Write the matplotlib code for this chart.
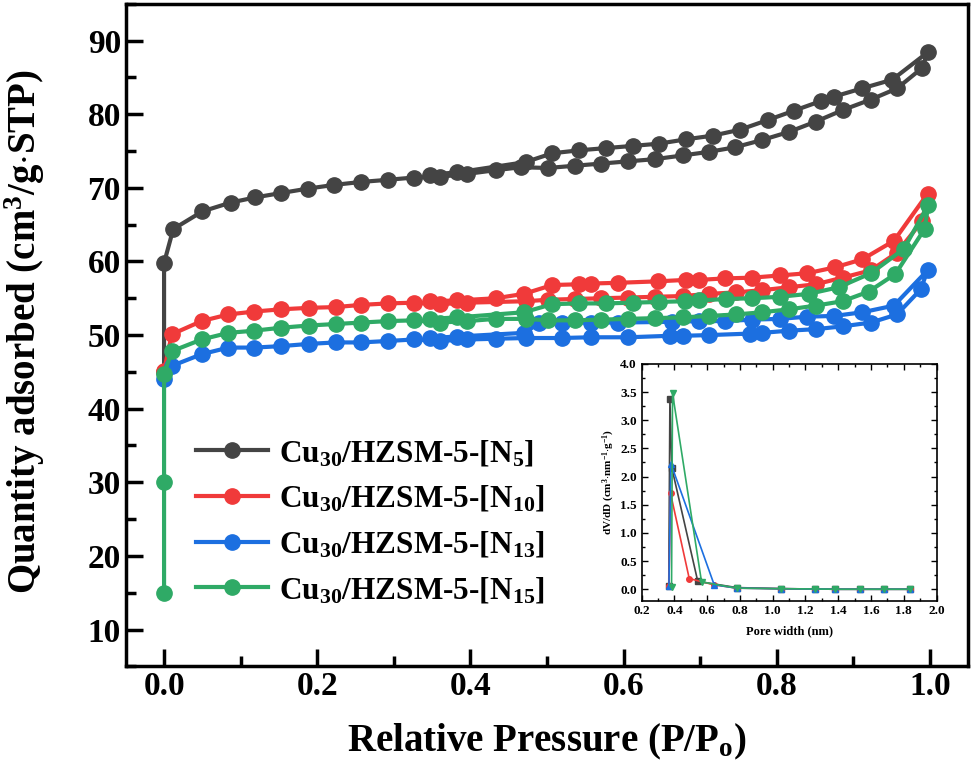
import matplotlib
matplotlib.use("Agg")
import matplotlib.pyplot as plt
from matplotlib.ticker import MultipleLocator

plt.rcParams['font.family'] = 'Liberation Serif'
plt.rcParams['font.weight'] = 'bold'
plt.rcParams['axes.labelweight'] = 'bold'
plt.rcParams['mathtext.fontset'] = 'custom'
plt.rcParams['mathtext.rm'] = 'Liberation Serif:bold'
plt.rcParams['mathtext.bf'] = 'Liberation Serif:bold'
plt.rcParams['mathtext.it'] = 'Liberation Serif:bold:italic'

# --- isotherms: adsorption branch followed by desorption branch ---
n5_x = [0.0, 0.0, 0.012, 0.050, 0.087, 0.119, 0.153, 0.188, 0.222, 0.257, 0.293, 0.326,
        0.360, 0.396, 0.433, 0.466, 0.501, 0.536, 0.571, 0.606, 0.641, 0.677, 0.712,
        0.745, 0.781, 0.816, 0.851, 0.887, 0.923, 0.957, 0.990, 0.997,
        0.951, 0.911, 0.875, 0.858, 0.823, 0.788, 0.752, 0.717, 0.682, 0.646, 0.612,
        0.577, 0.542, 0.507, 0.472, 0.383, 0.347]
n5_y = [45.0, 59.8, 64.4, 66.8, 68.0, 68.7, 69.3, 69.9, 70.4, 70.8, 71.1, 71.4,
        71.5, 71.9, 72.4, 72.8, 72.7, 73.0, 73.3, 73.6, 73.9, 74.4, 74.9,
        75.5, 76.5, 77.6, 79.0, 80.6, 82.0, 83.5, 86.3, 88.4,
        84.7, 83.5, 82.4, 81.8, 80.5, 79.2, 77.9, 77.1, 76.6, 76.0, 75.7,
        75.4, 75.1, 74.7, 73.5, 72.1, 71.8]

n10_x = [0.0, 0.010, 0.049, 0.084, 0.118, 0.153, 0.189, 0.224, 0.257, 0.293, 0.326,
         0.360, 0.396, 0.473, 0.501, 0.536, 0.571, 0.606, 0.641, 0.677, 0.712, 0.747,
         0.781, 0.816, 0.851, 0.886, 0.923, 0.957, 0.990, 0.997,
         0.953, 0.912, 0.876, 0.840, 0.804, 0.768, 0.733, 0.699, 0.682, 0.645, 0.593,
         0.557, 0.542, 0.507, 0.470, 0.433, 0.383, 0.347]
n10_y = [45.1, 50.1, 51.9, 52.8, 53.2, 53.5, 53.7, 53.8, 54.1, 54.3, 54.4,
         54.2, 54.4, 54.6, 54.8, 54.9, 55.0, 55.1, 55.2, 55.3, 55.6, 55.8,
         56.1, 56.5, 56.9, 57.8, 58.8, 61.2, 65.5, 69.2,
         62.8, 60.3, 59.2, 58.4, 58.1, 57.8, 57.7, 57.5, 57.5, 57.3, 57.1,
         57.0, 56.9, 56.8, 55.6, 55.0, 54.7, 54.6]

n13_x = [0.0, 0.010, 0.049, 0.084, 0.118, 0.153, 0.189, 0.224, 0.257, 0.293, 0.326,
         0.360, 0.396, 0.433, 0.473, 0.519, 0.557, 0.606, 0.660, 0.677, 0.712, 0.765,
         0.781, 0.816, 0.851, 0.887, 0.923, 0.957, 0.988, 0.997,
         0.953, 0.912, 0.875, 0.840, 0.804, 0.768, 0.733, 0.698, 0.663, 0.593, 0.557,
         0.520, 0.490, 0.470, 0.383, 0.347]
n13_y = [44.0, 45.8, 47.4, 48.3, 48.3, 48.5, 48.8, 49.0, 49.0, 49.2, 49.4,
         49.2, 49.4, 49.5, 49.6, 49.6, 49.7, 49.7, 49.9, 49.9, 50.0, 50.2,
         50.3, 50.6, 50.8, 51.2, 51.7, 52.8, 56.2, 58.8,
         54.0, 53.1, 52.6, 52.5, 52.2, 52.1, 51.9, 51.9, 51.8, 51.7, 51.7,
         51.7, 51.6, 50.3, 49.8, 49.6]

n15_x = [0.0, 0.0, 0.0, 0.010, 0.049, 0.084, 0.118, 0.153, 0.189, 0.224, 0.257, 0.293,
         0.326, 0.360, 0.396, 0.433, 0.473, 0.501, 0.536, 0.571, 0.606, 0.641, 0.677,
         0.712, 0.747, 0.781, 0.816, 0.851, 0.886, 0.920, 0.955, 0.993, 0.998,
         0.966, 0.923, 0.881, 0.842, 0.804, 0.768, 0.734, 0.699, 0.680, 0.646, 0.612,
         0.577, 0.542, 0.507, 0.470, 0.383, 0.347]
n15_y = [15.0, 30.0, 44.7, 47.8, 49.4, 50.3, 50.6, 51.0, 51.3, 51.5, 51.7, 51.9,
         52.0, 51.7, 51.9, 52.2, 52.2, 52.0, 52.0, 52.1, 52.2, 52.3, 52.4,
         52.6, 52.8, 53.1, 53.5, 54.0, 54.6, 55.9, 58.3, 64.4, 67.7,
         61.7, 58.4, 56.5, 55.6, 55.2, 55.0, 54.9, 54.7, 54.6, 54.5, 54.4,
         54.3, 54.3, 54.2, 53.1, 52.4, 52.2]

labels = [r'Cu$_{30}$/HZSM-5-[N$_{5}$]', r'Cu$_{30}$/HZSM-5-[N$_{10}$]',
          r'Cu$_{30}$/HZSM-5-[N$_{13}$]', r'Cu$_{30}$/HZSM-5-[N$_{15}$]']
colors = ['#444444', '#f03a3a', '#1c6fe0', '#2faa66']

# --- pore size distribution (inset) ---
psd_x5 = [0.366, 0.373, 0.385, 0.543, 0.78, 1.05, 1.26, 1.38, 1.53, 1.68, 1.84]
psd_y5 = [0.05, 3.37, 2.15, 0.14, 0.03, 0.01, 0.005, 0.0, 0.0, 0.0, 0.0]
psd_x10 = [0.367, 0.377, 0.491, 0.640, 0.78, 1.05, 1.26, 1.38, 1.53, 1.68, 1.84]
psd_y10 = [0.05, 1.70, 0.19, 0.08, 0.02, 0.01, 0.005, 0.0, 0.0, 0.0, 0.0]
psd_x13 = [0.367, 0.379, 0.643, 0.78, 1.05, 1.26, 1.38, 1.53, 1.68, 1.84]
psd_y13 = [0.06, 2.23, 0.08, 0.02, 0.01, 0.005, 0.0, 0.0, 0.0, 0.0]
psd_x15 = [0.383, 0.389, 0.566, 0.78, 1.05, 1.26, 1.38, 1.53, 1.68, 1.84]
psd_y15 = [0.04, 3.48, 0.13, 0.02, 0.01, 0.005, 0.0, 0.0, 0.0, 0.0]

fig = plt.figure(figsize=(9.75, 7.65), dpi=100)
ax = fig.add_axes([0.129, 0.129, 0.864, 0.866])

series = [(n5_x, n5_y), (n10_x, n10_y), (n13_x, n13_y), (n15_x, n15_y)]
for (xs, ys), lab, c in zip(series, labels, colors):
    ax.plot(xs, ys, '-o', color=c, lw=3, ms=11, label=lab)

ax.set_xlim(-0.05, 1.05)
ax.set_ylim(5, 95)
ax.xaxis.set_major_locator(MultipleLocator(0.2))
ax.xaxis.set_minor_locator(MultipleLocator(0.1))
ax.yaxis.set_major_locator(MultipleLocator(10))
ax.yaxis.set_minor_locator(MultipleLocator(5))
ax.set_yticks(range(10, 91, 10))
ax.tick_params(which='both', direction='in', width=2.5, labelsize=24)
ax.tick_params(which='major', length=12)
ax.tick_params(which='minor', length=7)
for sp in ax.spines.values():
    sp.set_linewidth(2.5)
ax.set_xlabel(r'Relative Pressure (P/P$_{\mathrm{o}}$)', fontsize=28, labelpad=14)
ax.set_ylabel(r'Quantity adsorbed (cm$^{3}$/g$\cdot$STP)', fontsize=28)
ax.yaxis.set_label_coords(-0.094, 0.505)
ax.legend(loc='lower left', bbox_to_anchor=(0.05, 0.05), frameon=False,
          fontsize=22.5, handlelength=2.3, labelspacing=0.5, handletextpad=0.35)

ins = fig.add_axes([0.658, 0.215, 0.3026, 0.3094])
ins.plot(psd_x5, psd_y5, '-s', color=colors[0], lw=1.2, ms=4)
ins.plot(psd_x10, psd_y10, '-o', color=colors[1], lw=1.2, ms=4)
ins.plot(psd_x13, psd_y13, '-^', color=colors[2], lw=1.2, ms=4)
ins.plot(psd_x15, psd_y15, '-v', color=colors[3], lw=1.2, ms=5)
ins.set_xlim(0.2, 2.0)
ins.set_ylim(-0.2, 4.0)
ins.xaxis.set_major_locator(MultipleLocator(0.2))
ins.xaxis.set_minor_locator(MultipleLocator(0.1))
ins.yaxis.set_major_locator(MultipleLocator(0.5))
ins.yaxis.set_minor_locator(MultipleLocator(0.25))
ins.tick_params(which='both', direction='in', width=1, labelsize=9.5, top=True, right=True)
ins.tick_params(which='major', length=4)
ins.tick_params(which='minor', length=2)
for sp in ins.spines.values():
    sp.set_linewidth(1.2)
ins.set_xlabel('Pore width (nm)', fontsize=9, labelpad=6)
ins.set_ylabel(r'dV/dD (cm$^{3}$$\cdot$nm$^{-1}$$\cdot$g$^{-1}$)', fontsize=8, labelpad=2)

fig.savefig('out.png', dpi=100)
